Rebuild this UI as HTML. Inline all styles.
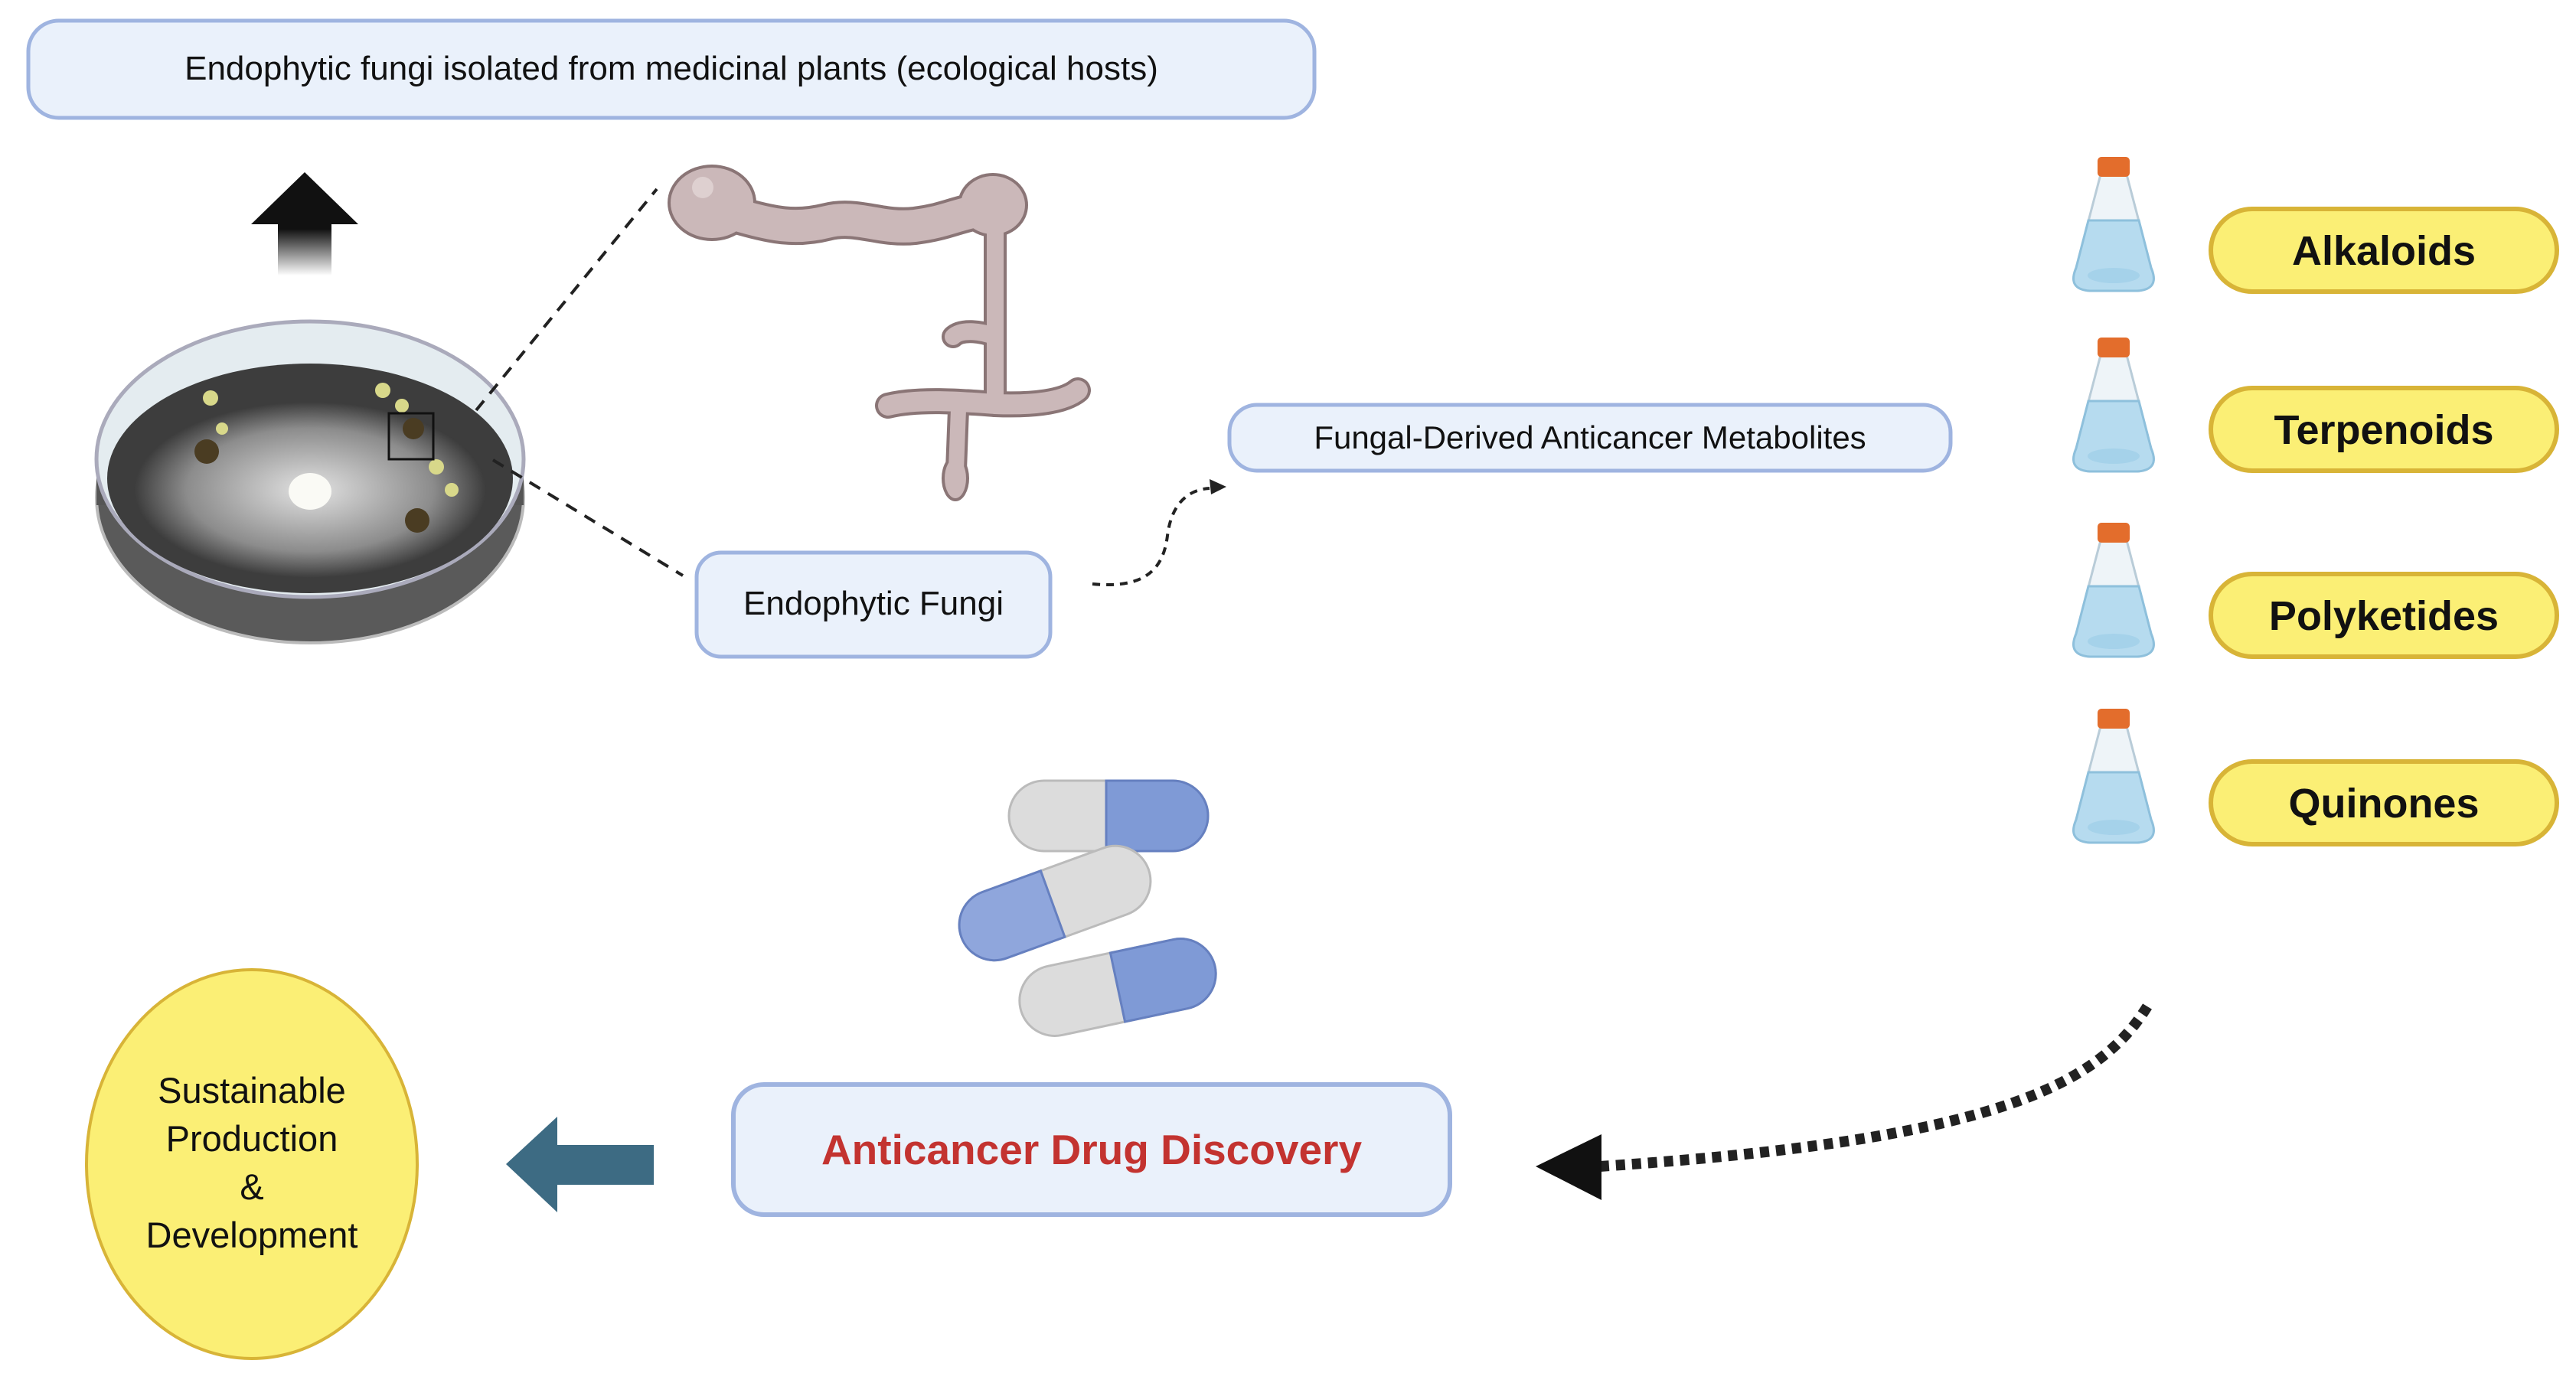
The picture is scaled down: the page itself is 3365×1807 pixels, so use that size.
<!DOCTYPE html>
<html><head><meta charset="utf-8"><style>
html,body{margin:0;padding:0;background:#fff;}
svg{display:block;font-family:"Liberation Sans",sans-serif;}
</style></head><body>
<svg width="3365" height="1807" viewBox="0 0 3365 1807" xmlns="http://www.w3.org/2000/svg">
<defs>
<linearGradient id="ag" x1="0" y1="0" x2="0" y2="1"><stop offset="0.55" stop-color="#111"/><stop offset="1" stop-color="#111" stop-opacity="0"/></linearGradient>
<radialGradient id="agar" cx="0.5" cy="0.5" r="0.5"><stop offset="0" stop-color="#fff"/><stop offset="0.12" stop-color="#eee"/><stop offset="0.7" stop-color="#9a9a9a"/><stop offset="1" stop-color="#3c3c3c"/></radialGradient>
</defs>
<rect x="37" y="27" width="1680" height="127" rx="40" fill="#eaf1fb" stroke="#9fb4e0" stroke-width="5"/>
<text x="877" y="104" font-size="44" text-anchor="middle" fill="#111">Endophytic fungi isolated from medicinal plants (ecological hosts)</text>
<polygon points="398,225 468,293 433,293 433,360 363,360 363,293 328,293" fill="url(#ag)"/>
<!-- petri dish -->
<ellipse cx="405" cy="650" rx="279" ry="190" fill="#5a5a5a" stroke="#bbb" stroke-width="4"/>
<rect x="126" y="600" width="558" height="60" fill="#555"/>
<ellipse cx="405" cy="600" rx="279" ry="180" fill="#e4ecf0" stroke="#aab" stroke-width="5"/>
<ellipse cx="405" cy="625" rx="265" ry="150" fill="#3d3d3d"/>
<ellipse cx="405" cy="640" rx="230" ry="115" fill="url(#agar)" opacity="0.85"/>
<ellipse cx="405" cy="642" rx="28" ry="24" fill="#fafaf5"/>
<g fill="#d8d88a"><circle cx="275" cy="520" r="10"/><circle cx="290" cy="560" r="8"/><circle cx="500" cy="510" r="10"/><circle cx="525" cy="530" r="9"/><circle cx="570" cy="610" r="10"/><circle cx="590" cy="640" r="9"/></g>
<g fill="#4a3c22"><circle cx="270" cy="590" r="16"/><circle cx="540" cy="560" r="14"/><circle cx="545" cy="680" r="16"/></g>
<rect x="508" y="540" width="58" height="60" fill="none" stroke="#111" stroke-width="3"/>
<line x1="622" y1="536" x2="858" y2="247" stroke="#222" stroke-width="4" stroke-dasharray="16,12"/>
<line x1="644" y1="601" x2="892" y2="752" stroke="#222" stroke-width="4" stroke-dasharray="16,12"/>
<!-- hypha -->
<g fill="none" stroke-linecap="round" stroke-linejoin="round">
<g stroke="#8a7576">
<path d="M960,280 C1010,295 1040,300 1080,290 C1120,280 1150,300 1195,295 C1235,290 1250,280 1280,275" stroke-width="50"/>
<path d="M1300,290 L1300,530" stroke-width="30"/>
<path d="M1300,440 C1280,432 1255,430 1245,440" stroke-width="30"/>
<path d="M1160,530 C1200,520 1260,525 1300,528 C1350,530 1390,525 1408,510" stroke-width="34"/>
<path d="M1252,535 L1248,640" stroke-width="28"/>
</g>
<ellipse cx="930" cy="265" rx="58" ry="50" fill="#8a7576" stroke="none"/>
<ellipse cx="1297" cy="268" rx="46" ry="42" fill="#8a7576" stroke="none"/>
<ellipse cx="1248" cy="625" rx="18" ry="30" fill="#8a7576" stroke="none"/>
<g stroke="#cbb8b9">
<path d="M960,280 C1010,295 1040,300 1080,290 C1120,280 1150,300 1195,295 C1235,290 1250,280 1280,275" stroke-width="42"/>
<path d="M1300,290 L1300,530" stroke-width="22"/>
<path d="M1300,440 C1280,432 1255,430 1245,440" stroke-width="22"/>
<path d="M1160,530 C1200,520 1260,525 1300,528 C1350,530 1390,525 1408,510" stroke-width="26"/>
<path d="M1252,535 L1248,640" stroke-width="20"/>
</g>
<ellipse cx="930" cy="265" rx="54" ry="46" fill="#cbb8b9" stroke="none"/>
<ellipse cx="1297" cy="268" rx="42" ry="38" fill="#cbb8b9" stroke="none"/>
<ellipse cx="1248" cy="625" rx="14" ry="26" fill="#cbb8b9" stroke="none"/>
</g>
<circle cx="918" cy="245" r="14" fill="#e2d6d6" opacity="0.8"/>
<rect x="910" y="722" width="462" height="136" rx="32" fill="#eaf1fb" stroke="#9fb4e0" stroke-width="5"/>
<text x="1141" y="803" font-size="44" text-anchor="middle" fill="#111">Endophytic Fungi</text>
<path d="M1427,763 C1500,770 1520,740 1525,700 C1530,660 1550,640 1580,638" fill="none" stroke="#222" stroke-width="4" stroke-dasharray="10,8"/>
<polygon points="1602,636 1580,626 1582,646" fill="#222"/>
<rect x="1606" y="529" width="942" height="86" rx="36" fill="#eaf1fb" stroke="#9fb4e0" stroke-width="5"/>
<text x="2077" y="586" font-size="42" text-anchor="middle" fill="#111">Fungal-Derived Anticancer Metabolites</text>
<!-- flasks -->
<g id="flask">
<path d="M2744,228 L2712,350 Q2700,378 2730,380 L2792,380 Q2822,378 2810,350 L2778,228 Z" fill="#eef4f8" stroke="#b9ccd8" stroke-width="3"/>
<path d="M2728,288 L2794,288 L2810,350 Q2822,378 2792,380 L2730,380 Q2700,378 2712,350 Z" fill="#b6dbef" stroke="#8ec0dc" stroke-width="3"/>
<ellipse cx="2761" cy="360" rx="34" ry="10" fill="#a5d2ea"/>
<rect x="2740" y="205" width="42" height="26" rx="5" fill="#e36d2c"/>
</g>
<use href="#flask" y="236"/>
<use href="#flask" y="478"/>
<use href="#flask" y="721"/>
<g fill="#fbef75" stroke="#d8b437" stroke-width="6">
<rect x="2888" y="273" width="452" height="108" rx="54"/>
<rect x="2888" y="507" width="452" height="108" rx="54"/>
<rect x="2888" y="750" width="452" height="108" rx="54"/>
<rect x="2888" y="995" width="452" height="108" rx="54"/>
</g>
<g font-size="54" font-weight="bold" text-anchor="middle" fill="#111">
<text x="3114" y="346">Alkaloids</text>
<text x="3114" y="580">Terpenoids</text>
<text x="3114" y="823">Polyketides</text>
<text x="3114" y="1068">Quinones</text>
</g>
<g stroke-width="3">
<g><rect x="1318" y="1020" width="260" height="92" rx="46" fill="#dcdcdc" stroke="#bbb"/><path d="M1445,1020 L1532,1020 A46,46 0 0 1 1532,1112 L1445,1112 Z" fill="#7f9ad6" stroke="#6680c0"/></g>
<g transform="rotate(-20 1378 1180)"><rect x="1248" y="1134" width="260" height="92" rx="46" fill="#dcdcdc" stroke="#bbb"/><path d="M1375,1134 L1294,1134 A46,46 0 0 0 1294,1226 L1375,1226 Z" fill="#8fa6dc" stroke="#6680c0"/></g>
<g transform="rotate(-12 1460 1290)"><rect x="1330" y="1244" width="260" height="92" rx="46" fill="#dcdcdc" stroke="#bbb"/><path d="M1460,1244 L1544,1244 A46,46 0 0 1 1544,1336 L1460,1336 Z" fill="#7f9ad6" stroke="#6680c0"/></g>
</g>
<rect x="958" y="1417" width="936" height="170" rx="40" fill="#eaf1fb" stroke="#9fb4e0" stroke-width="6"/>
<text x="1426" y="1521" font-size="55" font-weight="bold" text-anchor="middle" fill="#c33330">Anticancer Drug Discovery</text>
<path d="M2805,1315 C2740,1420 2600,1490 2090,1524" fill="none" stroke="#222" stroke-width="14" stroke-dasharray="12,9"/>
<polygon points="2006,1524 2092,1482 2092,1568" fill="#111"/>
<polygon points="661,1521 728,1459 728,1496 854,1496 854,1548 728,1548 728,1584" fill="#3d6b83"/>
<ellipse cx="329" cy="1521" rx="216" ry="254" fill="#fbef75" stroke="#d8b437" stroke-width="4"/>
<g font-size="47" text-anchor="middle" fill="#111">
<text x="329" y="1441">Sustainable</text>
<text x="329" y="1504">Production</text>
<text x="329" y="1567">&amp;</text>
<text x="329" y="1630">Development</text>
</g>
</svg>
</body></html>
